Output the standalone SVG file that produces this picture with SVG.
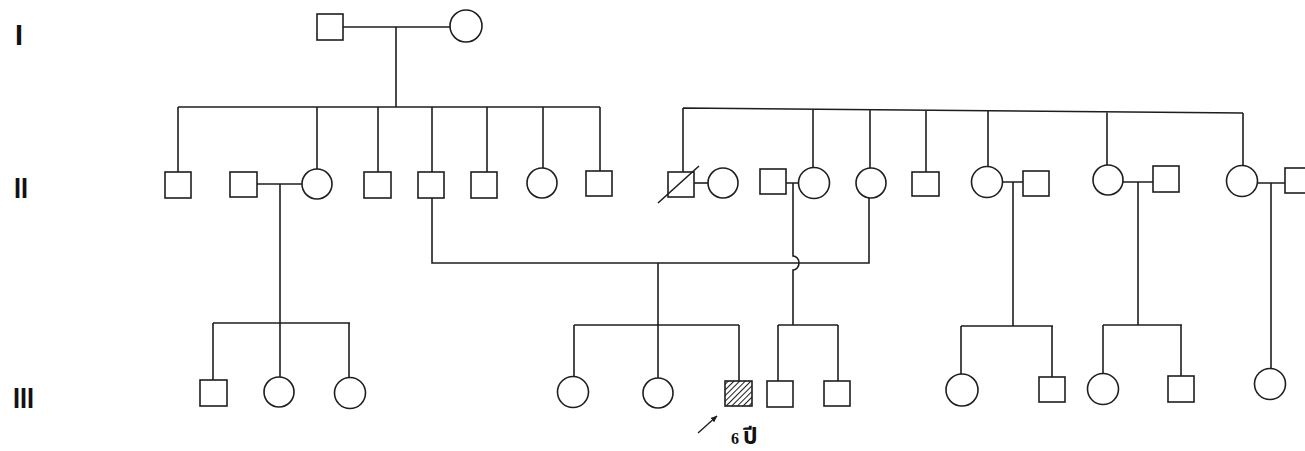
<svg xmlns="http://www.w3.org/2000/svg" width="1305" height="451" viewBox="0 0 1305 451">
<style>
.s{fill:none;stroke:#1e1e1e;stroke-width:1.6}
.n{fill:#fff;stroke:#1e1e1e;stroke-width:1.6}
.g{font-family:"Liberation Sans",Arial,sans-serif;font-weight:bold;font-size:30px;fill:#111}
.t{font-family:"Liberation Serif","Noto Sans Thai","Noto Serif Thai","DejaVu Sans",serif;font-weight:bold;font-size:16px;fill:#111}
</style>
<defs>
<pattern id="hatch" width="4" height="4" patternUnits="userSpaceOnUse" patternTransform="rotate(45)">
<rect width="4" height="4" fill="#fff"/>
<line x1="0" y1="0" x2="0" y2="4" stroke="#1e1e1e" stroke-width="2"/>
</pattern>
<marker id="ah" viewBox="0 0 10 10" refX="9" refY="5" markerWidth="5" markerHeight="5" orient="auto">
<path d="M0,1 L10,5 L0,9 z" fill="#1e1e1e"/>
</marker>
</defs>
<rect width="1305" height="451" fill="#fff"/>

<g id="gen-labels">
<text class="g" x="15" y="45" textLength="8" lengthAdjust="spacingAndGlyphs">I</text>
<text class="g" x="14" y="198" textLength="14" lengthAdjust="spacingAndGlyphs">II</text>
<text class="g" x="13" y="408" textLength="21" lengthAdjust="spacingAndGlyphs">III</text>
</g>

<g id="connectors">
<path class="s" d="M343,27 H450 M396,27 V107"/>
<path class="s" d="M178,107 H600 M178,107 V172 M317,107 V169 M378,107 V172 M432,107 V172 M487,107 V172 M543,107 V168 M600,107 V171"/>
<path class="s" d="M683,108 L1243,113 M683,108 V172 M813,109 V168 M870,110 V168 M926,110 V172 M988,111 V166 M1107,112 V165 M1243,113 V165"/>
<path class="s" d="M257,184 H302 M280,184 V323 M213,323 H350 M213,323 V380 M280,323 V377 M349,323 V378"/>
<path class="s" d="M694,183 H708"/>
<path class="s" d="M432,198 V263 H869 V198"/>
<path class="s" d="M658,263 V325 M574,325 H739 M574,325 V376 M658,325 V378 M739,325 V381"/>
<path class="s" d="M786,183 H799 M793,183 V256 A6,7 0 0 1 793,270 V325 M778,325 H838 M778,325 V381 M838,325 V381"/>
<path class="s" d="M1003,182 H1023 M1013,182 V326 M961,326 H1053 M961,326 V374 M1052,326 V377"/>
<path class="s" d="M1123,182 H1153 M1138,182 V325 M1103,325 H1182 M1103,325 V373 M1181,325 V376"/>
<path class="s" d="M1258,183 H1285 M1271,183 V368"/>
</g>

<g id="gen1">
<rect id="I-1" class="n" x="317" y="14" width="26" height="26"/>
<circle id="I-2" class="n" cx="466" cy="26" r="16"/>
</g>

<g id="gen2">
<rect id="II-1" class="n" x="165" y="172" width="26" height="26"/>
<rect id="II-2" class="n" x="230" y="172" width="27" height="25"/>
<circle id="II-3" class="n" cx="317" cy="184" r="15"/>
<rect id="II-4" class="n" x="364" y="172" width="27" height="26"/>
<rect id="II-5" class="n" x="418" y="172" width="26" height="26"/>
<rect id="II-6" class="n" x="471" y="172" width="26" height="26"/>
<circle id="II-7" class="n" cx="542" cy="183" r="15"/>
<rect id="II-8" class="n" x="586" y="171" width="26" height="25"/>
<g id="II-9">
<rect class="n" x="668" y="172" width="26" height="25"/>
<line class="s" x1="658" y1="203" x2="699" y2="166"/>
</g>
<circle id="II-10" class="n" cx="723" cy="183" r="15"/>
<rect id="II-11" class="n" x="760" y="169" width="26" height="25"/>
<circle id="II-12" class="n" cx="814" cy="183" r="15.5"/>
<circle id="II-13" class="n" cx="871" cy="183" r="15"/>
<rect id="II-14" class="n" x="912" y="172" width="27" height="24"/>
<circle id="II-15" class="n" cx="987" cy="182" r="15.5"/>
<rect id="II-16" class="n" x="1023" y="171" width="26" height="25"/>
<circle id="II-17" class="n" cx="1108" cy="180" r="15"/>
<rect id="II-18" class="n" x="1153" y="166" width="26" height="26"/>
<circle id="II-19" class="n" cx="1242" cy="181" r="15.5"/>
<rect id="II-20" class="n" x="1285" y="168" width="26" height="25"/>
</g>

<g id="gen3">
<rect id="III-1" class="n" x="200" y="380" width="27" height="26"/>
<circle id="III-2" class="n" cx="279" cy="392" r="15"/>
<circle id="III-3" class="n" cx="350" cy="393" r="15.5"/>
<circle id="III-4" class="n" cx="573" cy="392" r="15.5"/>
<circle id="III-5" class="n" cx="658" cy="393" r="15"/>
<rect id="III-6" x="725" y="381" width="27" height="25" fill="url(#hatch)" stroke="#1e1e1e" stroke-width="1.6"/>
<rect id="III-7" class="n" x="767" y="381" width="26" height="26"/>
<rect id="III-8" class="n" x="824" y="381" width="26" height="25"/>
<circle id="III-9" class="n" cx="962" cy="390" r="16"/>
<rect id="III-10" class="n" x="1039" y="377" width="26" height="25"/>
<circle id="III-11" class="n" cx="1103" cy="389" r="15.5"/>
<rect id="III-12" class="n" x="1168" y="376" width="26" height="26"/>
<circle id="III-13" class="n" cx="1270" cy="384" r="15.5"/>
</g>

<g id="proband-label">
<line x1="698" y1="433" x2="717" y2="416" stroke="#1e1e1e" stroke-width="1.4" marker-end="url(#ah)"/>
<text class="t" x="731" y="444">6 <tspan font-size="23px">ปี</tspan></text>
</g>
</svg>
